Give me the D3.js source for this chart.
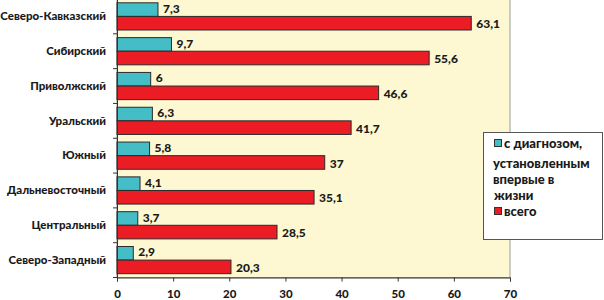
<!DOCTYPE html>
<html>
<head>
<meta charset="utf-8">
<script src="https://cdn.jsdelivr.net/npm/d3@7"></script>
<style>
  body { margin: 0; background: #fff; }
  svg text { font-family: Lato, "Open Sans", sans-serif; font-weight: 900; fill: #1a1a1a; }
</style>
</head>
<body>
<div id="chart"></div>
<script>
// data
const regions = ["Северо-Кавказский", "Сибирский", "Приволжский", "Уральский",
    "Южный", "Дальневосточный", "Центральный", "Северо-Западный"];
const firstTime = [7.3, 9.7, 6, 6.3, 5.8, 4.1, 3.7, 2.9];
const total = [63.1, 55.6, 46.6, 41.7, 37, 35.1, 28.5, 20.3];
const xTicks = [0, 10, 20, 30, 40, 50, 60, 70];
const seriesNames = ["с диагнозом, установленным впервые в жизни", "всего"];
const legendLines = ["с диагнозом,", "установленным", "впервые в", "жизни"];

const width = 604, height = 300;
const plotL = 117, plotR = 510, plotT = -1, plotB = 277.5;

const svg = d3.select('#chart')
    .append('svg')
    .attr('width', width)
    .attr('height', height);

const xScale = d3.scaleLinear()
    .domain([0, 70])
    .range([plotL, plotR]);

const yScale = d3.scaleBand()
    .domain(regions)
    .range([plotT, plotB]);

const sub = d3.scaleBand()
    .domain([0, 1])
    .range([0, yScale.bandwidth()])
    .paddingInner(0)
    .paddingOuter(0.28);

const colors = ["#45BDC6", "#EC1C24"];

// plot background
svg.append("rect")
    .attr("x", plotL)
    .attr("y", plotT)
    .attr("width", plotR - plotL)
    .attr("height", plotB - plotT)
    .attr("fill", "#FDF8D2")
    .attr("stroke", "#9a9a9a")
    .attr("stroke-width", 1);

const rows = regions.map((r, i) => ({ region: r, vals: [firstTime[i], total[i]] }));

const groups = svg.selectAll("g.row")
    .data(rows)
    .enter()
    .append("g")
    .attr("class", "row")
    .attr("transform", d => `translate(0,${yScale(d.region)})`);

groups.selectAll("rect")
    .data(d => d.vals)
    .enter()
    .append("rect")
    .attr("x", xScale(0))
    .attr("y", (d, i) => sub(i))
    .attr("width", d => xScale(d) - xScale(0))
    .attr("height", sub.bandwidth())
    .attr("fill", (d, i) => colors[i])
    .attr("stroke", "#2b2b2b")
    .attr("stroke-width", 1);

groups.selectAll("text.val")
    .data(d => d.vals)
    .enter()
    .append("text")
    .attr("class", "val")
    .attr("x", d => xScale(d) + 5)
    .attr("y", (d, i) => sub(i) + sub.bandwidth() / 2 + (i === 0 ? -1 : 1))
    .attr("dy", "0.35em")
    .style("font-size", "12px")
    .text(d => String(d).replace(".", ","));

// y axis
const yAxis = d3.axisLeft(yScale).tickSize(0).tickPadding(11);
const yG = svg.append("g")
    .attr("transform", `translate(${plotL},0)`)
    .call(yAxis);
yG.select(".domain").attr("stroke", "#333");
yG.selectAll("text").style("font-size", "11.5px");

// y ticks at band boundaries
svg.selectAll("line.ytick")
    .data(d3.range(regions.length + 1))
    .enter()
    .append("line")
    .attr("class", "ytick")
    .attr("x1", plotL - 4)
    .attr("x2", plotL)
    .attr("y1", i => plotT + i * yScale.step())
    .attr("y2", i => plotT + i * yScale.step())
    .attr("stroke", "#333");

// x axis
const xAxis = d3.axisBottom(xScale).tickValues(xTicks).tickSize(4).tickPadding(8);
const xG = svg.append("g")
    .attr("transform", `translate(0,${plotB})`)
    .call(xAxis);
xG.select(".domain").attr("stroke", "#333");
xG.selectAll("line").attr("stroke", "#333");
xG.selectAll("text").style("font-size", "11.5px");

// legend
const lg = svg.append("g");
lg.append("rect")
    .attr("x", 483.5)
    .attr("y", 132.5)
    .attr("width", 119)
    .attr("height", 107)
    .attr("fill", "#fff")
    .attr("stroke", "#555");

// first line sits next to the swatch, wrapped lines start under it
const legendY = [143, 163, 179, 195];
const legendX = [504, 493, 493, 494];
lg.append("rect")
    .attr("x", 494.5).attr("y", 139.5)
    .attr("width", 7).attr("height", 7)
    .attr("fill", colors[0]).attr("stroke", "#333");
lg.selectAll("text.l1")
    .data(legendLines)
    .enter()
    .append("text")
    .attr("class", "l1")
    .attr("x", (d, i) => legendX[i])
    .attr("y", (d, i) => legendY[i])
    .attr("dy", "0.35em")
    .style("font-size", "13px")
    .text(d => d);

lg.append("rect")
    .attr("x", 494.5).attr("y", 207.5)
    .attr("width", 7).attr("height", 7)
    .attr("fill", colors[1]).attr("stroke", "#333");
lg.append("text")
    .attr("x", 504)
    .attr("y", 211.5)
    .attr("dy", "0.35em")
    .style("font-size", "13px")
    .text(seriesNames[1]);
</script>
</body>
</html>
